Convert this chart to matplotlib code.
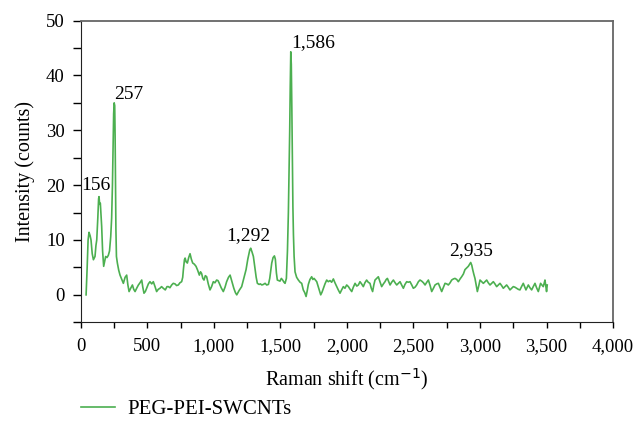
import matplotlib
matplotlib.use("Agg")
import matplotlib.pyplot as plt
from matplotlib.ticker import FuncFormatter, MultipleLocator

plt.rcParams["font.family"] = ["Liberation Serif", "DejaVu Serif"]

LINE_COLOR = "#4caf50"

# Raman spectrum
shift = [
    40, 48, 55, 62, 70, 77, 86, 95, 107, 114, 120, 128, 134, 137, 142, 147, 152, 157, 164, 172,
    180, 187, 197, 207, 216, 225, 232, 238, 243, 247, 251, 255, 258, 261, 264, 268, 275, 285, 295, 305,
    320, 333, 345, 354, 363, 375, 388, 398, 408, 420, 433, 445, 458, 466, 475, 485, 495, 508, 520, 533,
    545, 558, 570, 582, 595, 607, 620, 635, 648, 658, 670, 683, 695, 708, 720, 733, 745, 758, 766, 771,
    779, 784, 792, 801, 811, 821, 831, 841, 853, 866, 878, 891, 900, 908, 917, 926, 936, 946, 958, 971,
    983, 996, 1008, 1021, 1031, 1041, 1055, 1071, 1084, 1096, 1110, 1122, 1130, 1139, 1150, 1162, 1172, 1190, 1209, 1225,
    1242, 1255, 1270, 1277, 1287, 1297, 1308, 1318, 1327, 1340, 1350, 1360, 1372, 1385, 1397, 1410, 1420, 1428, 1435, 1445,
    1455, 1462, 1470, 1477, 1487, 1497, 1507, 1517, 1527, 1535, 1545, 1553, 1560, 1566, 1570, 1574, 1578, 1582, 1586, 1590,
    1594, 1598, 1603, 1610, 1622, 1635, 1648, 1660, 1672, 1683, 1693, 1702, 1710, 1722, 1735, 1744, 1753, 1763, 1773, 1788,
    1803, 1813, 1823, 1835, 1848, 1860, 1873, 1885, 1898, 1910, 1923, 1935, 1948, 1960, 1973, 1985, 1998, 2011, 2024, 2036,
    2048, 2061, 2074, 2086, 2098, 2110, 2123, 2135, 2148, 2160, 2173, 2183, 2193, 2202, 2211, 2224, 2236, 2248, 2261, 2274,
    2286, 2295, 2304, 2314, 2324, 2336, 2349, 2362, 2374, 2386, 2399, 2411, 2424, 2436, 2449, 2461, 2474, 2487, 2499, 2512,
    2524, 2537, 2549, 2562, 2575, 2587, 2600, 2612, 2625, 2637, 2650, 2662, 2675, 2687, 2700, 2712, 2725, 2737, 2750, 2762,
    2775, 2787, 2800, 2812, 2825, 2837, 2850, 2862, 2875, 2887, 2900, 2912, 2922, 2930, 2938, 2945, 2953, 2962, 2971, 2980,
    2990, 3000, 3012, 3025, 3038, 3050, 3062, 3075, 3088, 3100, 3112, 3125, 3138, 3150, 3162, 3175, 3188, 3200, 3212, 3225,
    3238, 3250, 3262, 3275, 3288, 3300, 3312, 3325, 3335, 3345, 3355, 3363, 3375, 3388, 3400, 3413, 3425, 3438, 3447, 3455,
    3465, 3475, 3482, 3488, 3494, 3500, 3505,
]
intensity = [
    0.0, 5.0, 10.0, 11.4, 10.8, 10.0, 7.5, 6.4, 7.0, 9.0, 10.0, 14.0, 17.5, 17.9, 16.5, 16.7, 14.5, 12.5, 8.0, 5.2,
    6.2, 7.0, 6.8, 7.2, 8.0, 10.6, 14.0, 20.0, 27.0, 33.0, 35.0, 34.5, 29.0, 20.0, 12.0, 7.0, 5.8, 4.5, 3.6, 3.0,
    2.1, 3.2, 3.6, 1.8, 0.6, 1.2, 1.8, 1.0, 0.6, 1.2, 1.8, 2.2, 2.7, 1.4, 0.3, 0.6, 1.2, 2.0, 2.4, 2.0,
    2.4, 1.5, 0.6, 1.0, 1.2, 1.5, 1.2, 0.9, 1.5, 1.5, 1.3, 1.8, 2.1, 2.0, 1.7, 1.8, 2.2, 2.4, 3.2, 4.6,
    6.4, 6.7, 6.0, 5.8, 6.8, 7.5, 6.5, 5.8, 5.6, 5.2, 4.5, 3.6, 4.2, 3.9, 3.0, 2.7, 3.5, 3.3, 2.0, 0.9,
    1.5, 2.4, 2.2, 2.7, 2.6, 2.1, 1.3, 0.6, 1.4, 2.4, 3.2, 3.6, 2.9, 2.1, 1.2, 0.4, 0.0, 0.8, 1.5, 3.0,
    4.6, 6.5, 8.2, 8.5, 7.8, 7.0, 5.0, 3.2, 2.1, 1.9, 2.0, 1.8, 1.9, 2.1, 1.8, 1.9, 3.0, 4.5, 5.8, 6.8,
    7.1, 6.5, 4.0, 2.7, 2.6, 2.5, 3.0, 2.7, 2.3, 2.1, 3.0, 8.0, 15.0, 24.0, 30.0, 38.0, 44.3, 42.0, 34.0, 24.0,
    16.0, 11.0, 7.0, 4.2, 3.2, 2.7, 2.3, 2.1, 0.9, 0.4, -0.3, 0.8, 1.9, 2.8, 3.3, 2.8, 3.0, 2.7, 2.4, 1.2,
    0.0, 0.5, 1.2, 2.0, 2.7, 2.4, 2.6, 2.3, 2.9, 2.2, 1.5, 0.9, 0.3, 0.9, 1.5, 1.2, 1.8, 1.5, 1.0, 0.6,
    1.4, 2.1, 1.6, 1.8, 2.4, 2.0, 1.5, 2.2, 2.7, 2.3, 2.1, 1.2, 0.6, 1.8, 2.7, 3.0, 3.3, 2.4, 1.5, 2.0,
    2.4, 2.8, 3.0, 2.4, 1.8, 2.3, 2.7, 2.2, 1.8, 2.1, 2.4, 1.8, 1.2, 1.9, 2.4, 2.3, 2.4, 1.8, 1.2, 1.4,
    1.8, 2.4, 2.7, 2.5, 2.2, 1.8, 2.3, 2.7, 1.7, 0.6, 1.2, 1.8, 2.0, 2.1, 1.3, 0.6, 1.4, 2.1, 2.0, 1.8,
    2.2, 2.7, 2.9, 3.0, 2.8, 2.4, 2.9, 3.3, 3.8, 4.6, 4.9, 5.2, 5.6, 5.9, 5.4, 4.6, 3.8, 3.0, 1.8, 0.6,
    1.6, 2.7, 2.4, 2.1, 2.4, 2.7, 2.2, 1.8, 2.1, 2.4, 2.0, 1.5, 1.8, 2.1, 1.7, 1.2, 1.5, 1.8, 1.4, 0.9,
    1.2, 1.5, 1.4, 1.2, 1.0, 0.9, 1.5, 2.1, 1.5, 0.9, 1.4, 1.8, 1.3, 0.9, 1.5, 2.1, 1.3, 0.6, 1.4, 2.1,
    1.8, 1.5, 2.1, 2.7, 1.7, 0.6, 1.8,
]

# peak labels: (text, x of text left edge, y of text centre)
peak_labels = ["156", "257", "1,292", "1,586", "2,935"]
label_x = [5, 250, 1095, 1585, 2770]
label_y = [20.0, 36.5, 10.8, 46.0, 8.1]

fig = plt.figure(figsize=(6.36, 4.28), dpi=100)
ax = fig.add_axes([0.127, 0.247, 0.837, 0.705])

ax.plot(shift, intensity, color=LINE_COLOR, lw=1.2, label="PEG-PEI-SWCNTs")

for txt, lx, ly in zip(peak_labels, label_x, label_y):
    ax.text(lx, ly, txt, fontsize=14, ha="left", va="center")

ax.set_xlim(0, 4000)
ax.set_ylim(-5, 50)
ax.xaxis.set_major_locator(MultipleLocator(500))
ax.xaxis.set_minor_locator(MultipleLocator(250))
ax.yaxis.set_major_locator(MultipleLocator(10))
ax.yaxis.set_minor_locator(MultipleLocator(5))
ax.xaxis.set_major_formatter(FuncFormatter(lambda v, _: f"{v:,.0f}"))
ax.tick_params(which="both", direction="out", width=1, labelsize=13.5)
ax.tick_params(axis="x", which="both", length=4.5, pad=7)
ax.tick_params(axis="y", which="both", length=5.5, pad=6)

for side in ("left", "bottom"):
    ax.spines[side].set_color("#222222")
for side in ("top", "right"):
    ax.spines[side].set_color("#666666")
    ax.spines[side].set_linewidth(1.3)

ax.set_xlabel("Raman shift (cm$^{-1}$)", fontsize=14.5, labelpad=8)
ax.set_ylabel("Intensity (counts)", fontsize=14.5, labelpad=8)

ax.legend(loc="upper left", bbox_to_anchor=(0.0, -0.255), frameon=False, borderaxespad=0,
          borderpad=0, handlelength=1.65, handletextpad=0.6, fontsize=15)

fig.savefig("out.png", dpi=100)
